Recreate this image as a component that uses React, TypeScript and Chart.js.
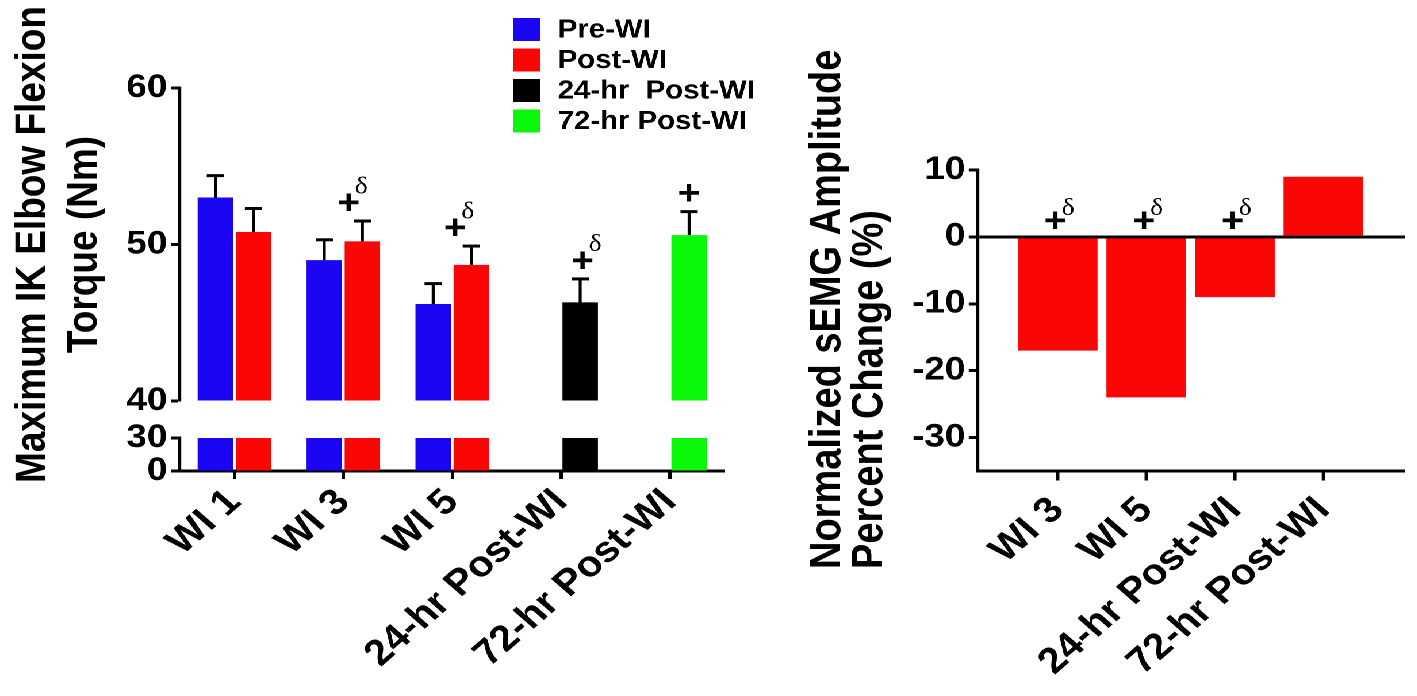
import { useEffect, useRef } from 'react';
import { Chart, registerables } from 'chart.js';

Chart.register(...registerables);

// the source figure is drawn a bit wider than tall, so the whole page is stretched sideways
const STRETCH = 1.15;
const FONT = "'Liberation Sans', Arial, Helvetica, sans-serif";
const SERIF = "'Liberation Serif', 'DejaVu Serif', serif";

const BLUE = '#1a06f2';
const RED = '#fb0505';
const BLACK = '#000000';
const GREEN = '#0af70a';

// ---- left panel: torque ----
const torqueLabels = ['WI 1', 'WI 3', 'WI 5', '24-hr Post-WI', '72-hr Post-WI'];
const preWI = [53.0, 49.0, 46.2];
const preWISem = [1.4, 1.3, 1.3];
const postWI = [50.8, 50.2, 48.7];
const postWISem = [1.5, 1.3, 1.2];
const post24hr = 46.3;
const post24hrSem = 1.5;
const post72hr = 50.6;
const post72hrSem = 1.5;
const torqueTopTicks = [40, 50, 60];
const torqueLowTicks = [0, 30];

// ---- right panel: sEMG ----
const semgLabels = ['WI 3', 'WI 5', '24-hr Post-WI', '72-hr Post-WI'];
const semgChange = [-17, -24, -9, 9];
const semgTicks = [-30, -20, -10, 0, 10];

const legendItems = [
  { label: 'Pre-WI', color: BLUE },
  { label: 'Post-WI', color: RED },
  { label: '24-hr  Post-WI', color: BLACK },
  { label: '72-hr Post-WI', color: GREEN },
];

// '+' (and 'δ') over the right-hand bar of a group
const torqueMarks = [
  { index: 1, delta: true, dx: -12 },
  { index: 2, delta: true, dx: -14 },
  { index: 3, delta: true, dx: 2 },
  { index: 4, delta: false, dx: 0 },
];
const semgMarks = [0, 1, 2];

const fill = (arr: (number | null)[], n: number) => [...arr, ...Array(n - arr.length).fill(null)];
const preSlot = fill(preWI, torqueLabels.length);
const preSlotSem = fill(preWISem, torqueLabels.length);
const postSlot = [...postWI, post24hr, post72hr];
const postSlotSem = [...postWISem, post24hrSem, post72hrSem];
const postSlotColors = [RED, RED, RED, BLACK, GREEN];
const lowMax = torqueLowTicks[torqueLowTicks.length - 1];
const topMin = torqueTopTicks[0];
const clipLow = (arr: (number | null)[]) => arr.map((v) => (v == null ? null : Math.min(v, lowMax)));

// tick numbers in the figure are a condensed bold face; use a narrow one if the box has it
const hasFont = (name: string) => {
  const c = document.createElement('canvas').getContext('2d');
  if (!c) return false;
  c.font = 'bold 40px monospace';
  const base = c.measureText('0123456789').width;
  c.font = `bold 40px '${name}', monospace`;
  return Math.abs(c.measureText('0123456789').width - base) > 0.5;
};
const tickFont = hasFont('Liberation Sans Narrow')
  ? { family: "'Liberation Sans Narrow', 'Liberation Sans', sans-serif", size: 35, weight: 'bold' as const }
  : { family: FONT, size: 32, weight: 'bold' as const };
const labelFont = { family: FONT, size: 36, weight: 'bold' as const };

const errorBars = {
  id: 'errorBars',
  afterDatasetsDraw(chart: any) {
    const { ctx } = chart;
    chart.data.datasets.forEach((ds: any, di: number) => {
      if (!ds.errors) return;
      const meta = chart.getDatasetMeta(di);
      const yScale = chart.scales[meta.yAxisID];
      meta.data.forEach((bar: any, i: number) => {
        const v = ds.data[i];
        const e = ds.errors[i];
        if (v == null || e == null) return;
        const top = yScale.getPixelForValue(v + e);
        ctx.save();
        ctx.strokeStyle = '#000';
        ctx.lineWidth = 2.6;
        ctx.beginPath();
        ctx.moveTo(bar.x, bar.y);
        ctx.lineTo(bar.x, top);
        ctx.stroke();
        ctx.lineWidth = 3;
        ctx.beginPath();
        ctx.moveTo(bar.x - 7.5, top);
        ctx.lineTo(bar.x + 7.5, top);
        ctx.stroke();
        ctx.restore();
      });
    });
  },
};

function drawMark(ctx: CanvasRenderingContext2D, x: number, y: number, delta: boolean, deltaDy: number) {
  ctx.save();
  ctx.fillStyle = '#000';
  ctx.textAlign = 'center';
  ctx.textBaseline = 'middle';
  ctx.font = `bold 34px ${FONT}`;
  ctx.fillText('+', x, y);
  if (delta) {
    ctx.font = `24px ${SERIF}`;
    ctx.fillText('δ', x + 11, y + deltaDy);
  }
  ctx.restore();
}

function drawVertical(ctx: CanvasRenderingContext2D, text: string, x: number, y: number, size: number, align: CanvasTextAlign) {
  ctx.save();
  ctx.translate(x, y);
  ctx.rotate(-Math.PI / 2);
  ctx.fillStyle = '#000';
  ctx.font = `bold ${size}px ${FONT}`;
  ctx.textAlign = align;
  ctx.textBaseline = 'alphabetic';
  ctx.fillText(text, 0, 0);
  ctx.restore();
}

const TorquePanel = () => {
  const chartRef = useRef<HTMLCanvasElement | null>(null);

  useEffect(() => {
    const ctx = chartRef.current?.getContext('2d');
    if (!ctx) return;

    const extras = {
      id: 'torqueExtras',
      afterDraw(chart: any) {
        const c = chart.ctx;
        const top = chart.scales.yTop;
        const mid = (top.top + top.bottom) / 2;
        // axis title, two lines centred on the upper axis
        drawVertical(c, 'Maximum IK Elbow Flexion', 39, mid, 37, 'center');
        drawVertical(c, 'Torque (Nm)', 84, mid, 37, 'center');
        // legend
        c.save();
        legendItems.forEach((item, i) => {
          const cy = 29.5 + i * 30.5;
          c.fillStyle = item.color;
          c.fillRect(446, cy - 11.5, 24, 23);
          c.fillStyle = '#000';
          c.font = `bold 25.5px ${FONT}`;
          c.textAlign = 'left';
          c.textBaseline = 'middle';
          c.fillText(item.label, 485, cy + 1);
        });
        c.restore();
        // significance marks
        const meta = chart.getDatasetMeta(1);
        torqueMarks.forEach((m) => {
          const bar: any = meta.data[m.index];
          const y = top.getPixelForValue(postSlot[m.index] + postSlotSem[m.index]) - 17;
          drawMark(c, bar.x + m.dx, y, m.delta, -17);
        });
      },
    };

    const yCommon = {
      type: 'linear' as const,
      position: 'left' as const,
      stack: 'torque',
      afterFit: (s: any) => {
        s.width = 70;
      },
      grid: { drawOnChartArea: false, tickLength: 8, tickWidth: 3, tickColor: '#000' },
      border: { display: true, color: '#000', width: 2.6 },
      ticks: { color: '#000', font: tickFont, padding: 3, autoSkip: false },
    };

    const myChart = new Chart(ctx, {
      type: 'bar',
      data: {
        labels: torqueLabels,
        datasets: [
          { label: 'Pre-WI', data: preSlot, errors: preSlotSem, backgroundColor: BLUE, yAxisID: 'yTop', stack: 'pre', base: topMin } as any,
          { label: 'Post-WI', data: postSlot, errors: postSlotSem, backgroundColor: postSlotColors, yAxisID: 'yTop', stack: 'post', base: topMin } as any,
          { label: 'Pre-WI low', data: clipLow(preSlot), backgroundColor: BLUE, yAxisID: 'yLow', stack: 'pre' },
          { label: 'Post-WI low', data: clipLow(postSlot), backgroundColor: postSlotColors, yAxisID: 'yLow', stack: 'post' },
        ],
      },
      options: {
        animation: false,
        responsive: false,
        devicePixelRatio: 2,
        categoryPercentage: 0.7,
        barPercentage: 0.93,
        layout: { padding: { left: 86.5, top: 88, right: 48, bottom: 0 } },
        plugins: { legend: { display: false }, tooltip: { enabled: false } },
        scales: {
          x: {
            type: 'category',
            offset: true,
            afterFit: (s: any) => {
              s.height = 225;
            },
            grid: { drawOnChartArea: false, offset: false, tickLength: 8, tickWidth: 3, tickColor: '#000' },
            border: { color: '#000', width: 3 },
            ticks: { color: '#000', font: labelFont, minRotation: 45, maxRotation: 45, autoSkip: false, padding: 2 },
          },
          // stacked axes are laid out bottom-up from the config order
          yLow: {
            ...yCommon,
            stackWeight: 33,
            min: 0,
            max: lowMax,
            afterBuildTicks: (s: any) => {
              s.ticks = torqueLowTicks.map((value) => ({ value }));
            },
          },
          yGap: {
            type: 'linear',
            position: 'left',
            stack: 'torque',
            stackWeight: 37,
            afterFit: (s: any) => {
              s.width = 70;
            },
            grid: { display: false },
            border: { display: false },
            ticks: { display: false },
          },
          yTop: {
            ...yCommon,
            stackWeight: 313,
            min: topMin,
            max: torqueTopTicks[torqueTopTicks.length - 1],
            afterBuildTicks: (s: any) => {
              s.ticks = torqueTopTicks.map((value) => ({ value }));
            },
          },
        } as any,
      },
      plugins: [errorBars, extras],
    } as any);

    return () => {
      myChart.destroy();
    };
  }, []);

  return <canvas ref={chartRef} width={678} height={696} style={{ position: 'absolute', left: 0, top: 0 }} />;
};

const SemgPanel = () => {
  const chartRef = useRef<HTMLCanvasElement | null>(null);

  useEffect(() => {
    const ctx = chartRef.current?.getContext('2d');
    if (!ctx) return;

    const extras = {
      id: 'semgExtras',
      afterDraw(chart: any) {
        const c = chart.ctx;
        const area = chart.chartArea;
        const xs = chart.scales.x;
        drawVertical(c, 'Normalized sEMG Amplitude', 52.4, area.bottom + 98, 38, 'left');
        drawVertical(c, 'Percent Change (%)', 89, area.bottom + 98, 38, 'left');
        // category tick marks under the axis, one per label
        c.save();
        c.strokeStyle = '#000';
        c.lineWidth = 3;
        semgLabels.forEach((_, i) => {
          const px = xs.getPixelForValue(i);
          c.beginPath();
          c.moveTo(px, area.bottom);
          c.lineTo(px, area.bottom + 9.5);
          c.stroke();
        });
        c.restore();
        const meta = chart.getDatasetMeta(0);
        const zero = chart.scales.y.getPixelForValue(0);
        semgMarks.forEach((i) => {
          const bar: any = meta.data[i];
          drawMark(c, bar.x - 2, zero - 15, true, -13);
        });
      },
    };

    const myChart = new Chart(ctx, {
      type: 'bar',
      data: {
        datasets: [
          {
            label: 'sEMG',
            data: semgChange.map((y, x) => ({ x, y })),
            backgroundColor: RED,
            categoryPercentage: 0.9,
            barPercentage: 1,
          },
        ],
      },
      options: {
        animation: false,
        responsive: false,
        devicePixelRatio: 2,
        layout: { padding: { left: 102.4, top: 170, right: 10.3, bottom: 0 } },
        plugins: { legend: { display: false }, tooltip: { enabled: false } },
        scales: {
          x: {
            type: 'linear',
            offset: false,
            min: -0.9,
            max: 3.92,
            afterBuildTicks: (s: any) => {
              s.ticks = semgLabels.map((_, value) => ({ value }));
            },
            afterFit: (s: any) => {
              s.height = 225;
            },
            grid: { display: false },
            border: { color: '#000', width: 3 },
            ticks: {
              color: '#000',
              font: labelFont,
              minRotation: 45,
              maxRotation: 45,
              autoSkip: false,
              padding: 10,
              callback: (v: any) => semgLabels[v] ?? '',
            },
          },
          y: {
            min: -35,
            max: 10,
            afterBuildTicks: (s: any) => {
              s.ticks = semgTicks.map((value) => ({ value }));
            },
            afterFit: (s: any) => {
              s.width = 70;
            },
            grid: {
              color: (c: any) => (c.tick && c.tick.value === 0 ? '#000' : 'rgba(0,0,0,0)'),
              lineWidth: 3,
              tickLength: 8,
              tickWidth: 3,
              tickColor: '#000',
            },
            border: { color: '#000', width: 2.6 },
            ticks: { color: '#000', font: tickFont, padding: 3, autoSkip: false },
          },
        },
      },
      plugins: [extras],
    } as any);

    return () => {
      myChart.destroy();
    };
  }, []);

  return <canvas ref={chartRef} width={554} height={696} style={{ position: 'absolute', left: 678, top: 0 }} />;
};

const App = () => {
  useEffect(() => {
    document.body.style.margin = '0';
    document.body.style.background = '#fff';
  }, []);

  return (
    <div
      style={{
        position: 'relative',
        width: 1232,
        height: 696,
        transform: `scaleX(${STRETCH})`,
        transformOrigin: '0 0',
      }}
    >
      <TorquePanel />
      <SemgPanel />
    </div>
  );
};

export default App;
